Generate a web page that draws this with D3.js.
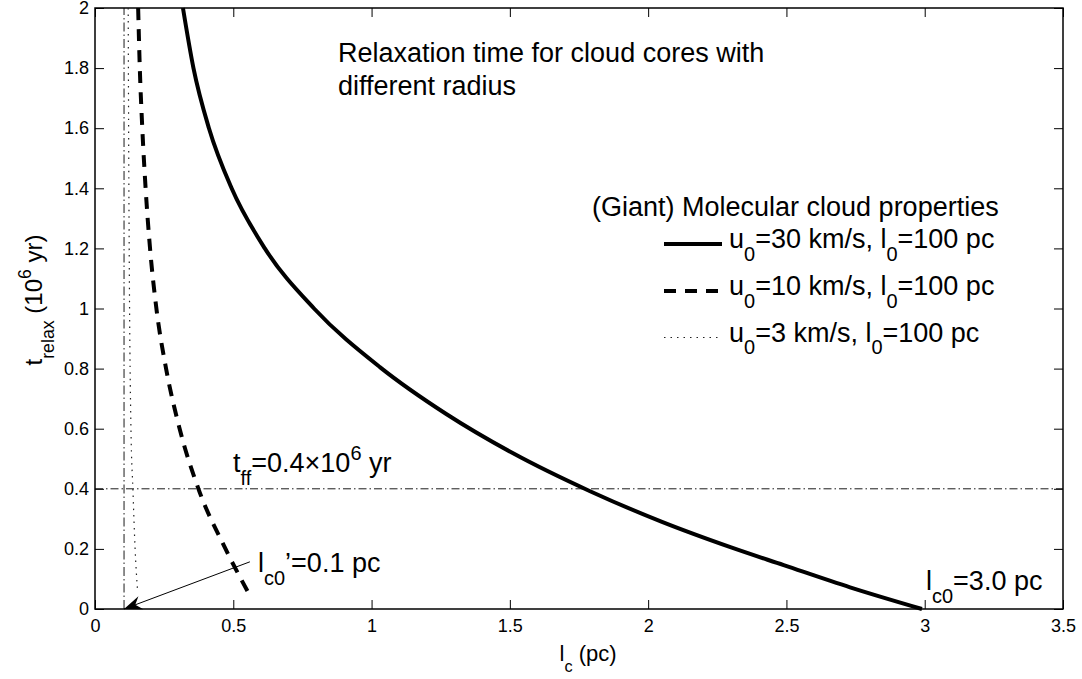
<!DOCTYPE html>
<html>
<head>
<meta charset="utf-8">
<style>
  body { margin: 0; background: #fff; }
  svg { display: block; font-family: "Liberation Sans", Arial, Helvetica, sans-serif; }
  .axis path, .axis line { stroke: #000; }
  .axis text { font-size: 18px; fill: #000; }
</style>
</head>
<body>
<svg width="1082" height="679"></svg>
<script src="https://d3js.org/d3.v7.min.js"></script>
<script>
// curves: l_c (pc) vs t_relax (10^6 yr)
const u30_l = [0.318, 0.356, 0.412, 0.494, 0.614, 0.792, 1.03, 1.27, 1.51, 1.79, 2.05, 2.30, 2.49, 2.73, 2.99];
const u30_t = [2.0, 1.8, 1.6, 1.4, 1.2, 1.0, 0.805, 0.649, 0.519, 0.392, 0.29, 0.205, 0.146, 0.072, 0.0];
const u10_l = [0.156, 0.162, 0.171, 0.183, 0.199, 0.222, 0.257, 0.306, 0.374, 0.472, 0.566];
const u10_t = [2.0, 1.8, 1.6, 1.4, 1.2, 1.0, 0.8, 0.6, 0.4, 0.2, 0.035];
const u3_l = [0.120, 0.122, 0.125, 0.130, 0.137, 0.145, 0.154];
const u3_t = [2.0, 1.5, 1.0, 0.6, 0.4, 0.2, 0.06];

const tff = 0.4;      // free-fall time line
const lc0p = 0.105;   // l_c0' vertical line
const arrowFrom = [0.56, 0.157];

const xTicks = [0, 0.5, 1, 1.5, 2, 2.5, 3, 3.5];
const yTicks = [0, 0.2, 0.4, 0.6, 0.8, 1, 1.2, 1.4, 1.6, 1.8, 2];

const legendNames = [
  [["u"], ["0", "sub"], ["=30 km/s, l"], ["0", "sub"], ["=100 pc"]],
  [["u"], ["0", "sub"], ["=10 km/s, l"], ["0", "sub"], ["=100 pc"]],
  [["u"], ["0", "sub"], ["=3 km/s, l"], ["0", "sub"], ["=100 pc"]]
];

const svg = d3.select("svg");
const L = 95, R = 1063, T = 8, B = 609;
const FS = 27; // annotation font size

const x = d3.scaleLinear().domain([0, 3.5]).range([L, R]);
const y = d3.scaleLinear().domain([0, 2]).range([B, T]);

// text with sub/superscripts
function rich(g, px, py, parts, size, anchor) {
  const t = g.append("text").attr("x", px).attr("y", py)
    .attr("text-anchor", anchor || "start")
    .style("font-size", size + "px").attr("fill", "#000");
  let shift = 0;
  parts.forEach(p => {
    const m = p[1];
    const target = m === "sub" ? size * 0.48 : m === "sup" ? -size * 0.46 : 0;
    t.append("tspan").attr("dy", target - shift)
      .style("font-size", (m ? size * 0.74 : size) + "px").text(p[0]);
    shift = target;
  });
  return t;
}

// axes, ticks pointing inward on all four sides
const fmt = d3.format("~g");
svg.append("g").attr("class", "axis").attr("transform", `translate(0,${B})`)
  .call(d3.axisBottom(x).tickValues(xTicks).tickFormat(fmt).tickSizeInner(-9).tickSizeOuter(0).tickPadding(10));
svg.append("g").attr("class", "axis").attr("transform", `translate(0,${T})`)
  .call(d3.axisTop(x).tickValues(xTicks).tickFormat("").tickSizeInner(-9).tickSizeOuter(0));
svg.append("g").attr("class", "axis").attr("transform", `translate(${L},0)`)
  .call(d3.axisLeft(y).tickValues(yTicks).tickFormat(fmt).tickSizeInner(-9).tickSizeOuter(0).tickPadding(6));
svg.append("g").attr("class", "axis").attr("transform", `translate(${R},0)`)
  .call(d3.axisRight(y).tickValues(yTicks).tickFormat("").tickSizeInner(-9).tickSizeOuter(0));
svg.selectAll(".axis .domain").remove();
svg.selectAll(".axis line").attr("stroke-width", 1);

svg.append("rect").attr("x", L).attr("y", T).attr("width", R - L).attr("height", B - T)
  .attr("fill", "none").attr("stroke", "#000").attr("stroke-width", 1.5);

// reference lines
svg.append("line").attr("x1", x(0)).attr("x2", x(3.5)).attr("y1", y(tff)).attr("y2", y(tff))
  .attr("stroke", "#000").attr("stroke-width", 0.9).attr("stroke-dasharray", "8,3,1.5,3");
svg.append("line").attr("x1", x(lc0p)).attr("x2", x(lc0p)).attr("y1", y(0)).attr("y2", y(2))
  .attr("stroke", "#000").attr("stroke-width", 0.9).attr("stroke-dasharray", "9,3,1.5,3");

// curves
const line = d3.line().x(d => x(d[0])).y(d => y(d[1])).curve(d3.curveMonotoneX);
const series = [
  { l: u30_l, t: u30_t, w: 4, dash: null, color: "#000" },
  { l: u10_l, t: u10_t, w: 4, dash: "12,9", color: "#000" },
  { l: u3_l, t: u3_t, w: 1.2, dash: "1.5,5", color: "#222" }
];
series.forEach(s => {
  svg.append("path").datum(d3.zip(s.l, s.t)).attr("d", line)
    .attr("fill", "none").attr("stroke", s.color).attr("stroke-width", s.w)
    .attr("stroke-dasharray", s.dash);
});

// arrow to l_c0'
const ax0 = x(arrowFrom[0]), ay0 = y(arrowFrom[1]), ax1 = x(lc0p), ay1 = y(0);
svg.append("line").attr("x1", ax0).attr("y1", ay0).attr("x2", ax1).attr("y2", ay1)
  .attr("stroke", "#000").attr("stroke-width", 1);
const ang = Math.atan2(ay0 - ay1, ax0 - ax1);
const hp = (len, off) => [ax1 + len * Math.cos(ang) - off * Math.sin(ang), ay1 + len * Math.sin(ang) + off * Math.cos(ang)];
svg.append("path").attr("d", "M" + [[ax1, ay1], hp(18, 7), hp(12, 0), hp(18, -7)].join("L") + "Z").attr("fill", "#000");

// annotations
const g = svg.append("g");
rich(g, 338, 62, [["Relaxation time for cloud cores with"]], FS);
rich(g, 338, 95, [["different radius"]], FS);
rich(g, 233, 472, [["t"], ["ff", "sub"], ["=0.4\u00d710"], ["6", "sup"], [" yr"]], FS);
rich(g, 258, 572, [["l"], ["c0", "sub"], ["\u2019=0.1 pc"]], FS);
rich(g, 926, 590, [["l"], ["c0", "sub"], ["=3.0 pc"]], FS);

// legend
rich(g, 592, 216, [["(Giant) Molecular cloud properties"]], FS);
const legY = [244, 291, 337.5];
series.forEach((s, i) => {
  g.append("line").attr("x1", 664).attr("x2", 722).attr("y1", legY[i]).attr("y2", legY[i])
    .attr("stroke", s.color).attr("stroke-width", s.w).attr("stroke-dasharray", s.dash);
  rich(g, 729, legY[i] + 4, legendNames[i], FS);
});

// axis titles
rich(g, 588, 661, [["l"], ["c", "sub"], [" (pc)"]], 22, "middle");
rich(g, 0, 0, [["t"], ["relax", "sub"], [" (10"], ["6", "sup"], [" yr)"]], 24, "middle")
  .attr("transform", "translate(42,300) rotate(-90)");
</script>
</body>
</html>
